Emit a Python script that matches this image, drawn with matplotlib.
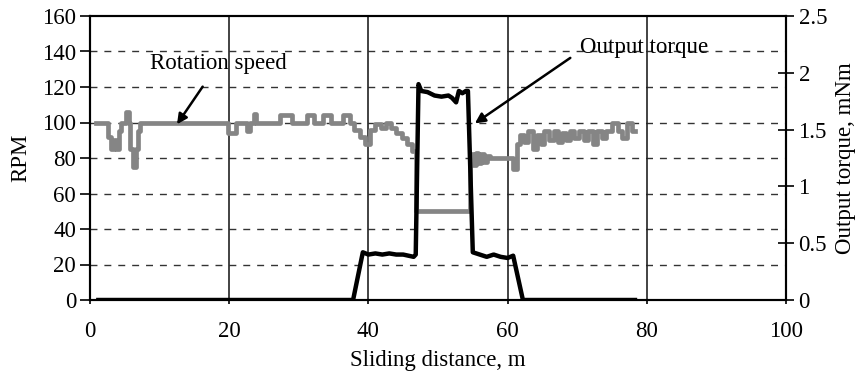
import matplotlib
matplotlib.use("Agg")
import matplotlib.pyplot as plt

plt.rcParams['font.family'] = ['Liberation Serif', 'DejaVu Serif']

# Rotation speed (RPM), step signal
rot_x = [0.8, 2.6, 3.0, 3.4, 3.8, 4.2, 4.5, 5.2, 5.6, 5.8, 6.2, 6.6, 6.9, 7.2,
         19.8, 21.0, 22.5, 23.0, 23.6, 23.9, 27.3, 29.0, 31.2, 32.2, 33.5, 34.6,
         36.4, 37.4, 38.0, 38.8, 39.5, 40.2, 41.0, 41.8, 42.5, 43.2, 44.0, 44.8,
         45.5, 46.2, 46.8, 54.6, 55.0, 55.4, 55.8, 56.2, 56.6, 57.0, 57.5, 60.8,
         61.3, 61.8, 62.4, 63.0, 63.7, 64.2, 64.8, 65.3, 66.0, 66.6, 67.2, 67.8,
         68.4, 69.0, 69.6, 70.3, 71.0, 71.6, 72.3, 72.8, 73.5, 74.2, 75.0, 75.9,
         76.5, 77.2, 77.9, 78.3]
rot_y = [100, 92, 85, 90, 85, 95, 100, 106, 100, 85, 75, 85, 95, 100,
         94, 100, 95, 100, 105, 100, 104, 100, 104, 100, 104, 100,
         104, 100, 96, 92, 88, 96, 99, 97, 100, 97, 94, 91,
         88, 84, 50, 82, 76, 83, 77, 82, 78, 81, 80, 74,
         88, 93, 89, 95, 85, 93, 88, 95, 90, 95, 89, 94,
         90, 95, 91, 95, 90, 95, 88, 95, 91, 95, 100, 95,
         91, 100, 95, 95]

# Output torque (mNm)
tq_x = [1.2, 37.8, 39.2, 40.0, 41.0, 42.0, 43.0, 44.0, 45.0, 46.5, 46.8, 47.2,
        47.6, 48.5, 49.5, 50.5, 51.5, 52.0, 52.6, 53.0, 53.5, 54.0, 54.3, 55.0,
        56.0, 57.0, 58.0, 59.0, 60.0, 60.8, 62.2, 78.3]
tq_y = [0, 0, 0.42, 0.40, 0.41, 0.40, 0.41, 0.40, 0.40, 0.38, 0.40, 1.90,
        1.84, 1.83, 1.80, 1.79, 1.80, 1.78, 1.74, 1.84, 1.82, 1.84, 1.84, 0.42,
        0.40, 0.38, 0.40, 0.38, 0.37, 0.39, 0, 0]

x_ticks = [0, 20, 40, 60, 80, 100]
rpm_ticks = [0, 20, 40, 60, 80, 100, 120, 140, 160]
tq_ticks = [0, 0.5, 1, 1.5, 2, 2.5]
tq_labels = ['0', '0.5', '1', '1.5', '2', '2.5']

FS = 16.5

fig = plt.figure(figsize=(8.58, 3.81), dpi=100)
ax = fig.add_axes([90/858, 1-300/381, (786-90)/858, (300-16)/381])
ax2 = ax.twinx()

# grid
for v in rpm_ticks[1:-1]:
    ax.axhline(v, color='#333333', lw=1.0, ls=(0, (5, 5)), zorder=0)
for v in x_ticks[1:-1]:
    ax.axvline(v, color='#222222', lw=1.2, zorder=0)

ax.plot(rot_x, rot_y, drawstyle='steps-post', color='#858585', lw=3.4, zorder=3)
ax2.plot(tq_x, tq_y, color='black', lw=3.2, zorder=3)

ax.set_xlim(0, 100)
ax.set_ylim(0, 160)
ax2.set_ylim(0, 2.5)
ax.set_xticks(x_ticks)
ax.set_yticks(rpm_ticks)
ax2.set_yticks(tq_ticks)
ax2.set_yticklabels(tq_labels)

for a in (ax, ax2):
    for s in a.spines.values():
        s.set_linewidth(1.5)
        s.set_color('black')
ax.tick_params(axis='x', direction='out', length=3, width=1.2, labelsize=FS, pad=12)
ax.tick_params(axis='y', direction='out', length=7, width=1.2, labelsize=FS, pad=3)
ax2.tick_params(axis='y', direction='inout', length=12, width=1.2, labelsize=FS, pad=3)

ax.set_xlabel('Sliding distance, m', fontsize=FS, labelpad=6)
ax.set_ylabel('RPM', fontsize=FS, labelpad=8)
ax2.set_ylabel('Output torque, mNm', fontsize=FS, labelpad=6)

ax.annotate('Rotation speed', xy=(12.5, 99), xytext=(18.5, 133.5),
            fontsize=FS, ha='center', va='center', zorder=5,
            arrowprops=dict(arrowstyle='-|>', color='black', lw=1.8,
                            mutation_scale=15, shrinkA=9, shrinkB=0))
ax.annotate('Output torque', xy=(55.3, 99.5), xytext=(79.6, 142.5),
            fontsize=FS, ha='center', va='center', zorder=5,
            arrowprops=dict(arrowstyle='-|>', color='black', lw=1.8,
                            mutation_scale=15, shrinkA=6, shrinkB=0,
                            relpos=(0.0, 0.3)))

fig.savefig('out.png', dpi=100)
